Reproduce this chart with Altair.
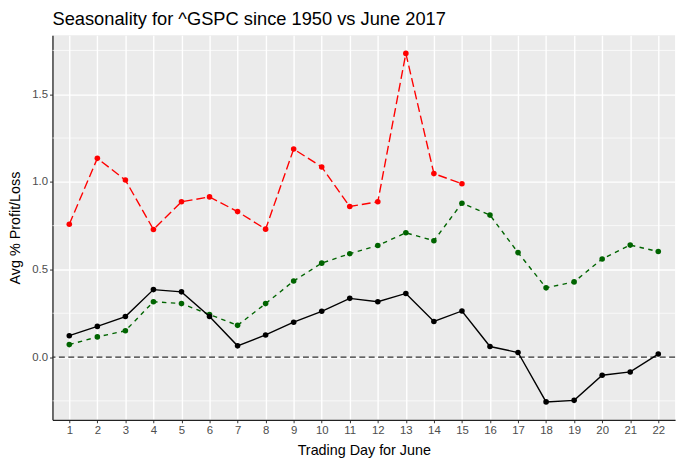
import altair as alt
import pandas as pd

days = list(range(1, 23))
avg_all = [0.122, 0.175, 0.231, 0.385, 0.372, 0.231, 0.064, 0.126, 0.199, 0.261, 0.335,
           0.316, 0.363, 0.203, 0.263, 0.060, 0.026, -0.256, -0.247, -0.104, -0.085, 0.017]
avg_alt = [0.071, 0.115, 0.150, 0.316, 0.305, 0.243, 0.181, 0.305, 0.434, 0.536, 0.590,
           0.637, 0.709, 0.664, 0.878, 0.810, 0.596, 0.395, 0.429, 0.560, 0.639, 0.602]
june_2017_days = list(range(1, 16))
june_2017 = [0.758, 1.134, 1.010, 0.728, 0.886, 0.914, 0.830, 0.730, 1.187, 1.085, 0.859,
             0.886, 1.733, 1.047, 0.989]

minor_grid = [-0.25, 0.25, 0.75, 1.25, 1.75]
y_ticks = [0.0, 0.5, 1.0, 1.5]

FONT = "Liberation Sans"

x_scale = alt.Scale(domain=[0.4, 22.6], nice=False, zero=False)
y_scale = alt.Scale(domain=[-0.358, 1.836], nice=False, zero=False)

x_axis = alt.Axis(values=days, format="d", grid=True, gridColor="white", gridWidth=1.4,
                  domainColor="#222222", domainWidth=1.3, tickColor="#333333", tickSize=3,
                  labelPadding=2, labelFontSize=11.5, labelColor="#4D4D4D",
                  titleFontSize=14.5, titleColor="black", titleFontWeight="normal",
                  titlePadding=8, labelFont=FONT, titleFont=FONT)
y_axis = alt.Axis(values=y_ticks, format=".1f", grid=True, gridColor="white", gridWidth=1.4,
                  domainColor="#222222", domainWidth=1.3, tickColor="#333333", tickSize=3,
                  labelPadding=2, labelFontSize=11.5, labelColor="#4D4D4D",
                  titleFontSize=14.5, titleColor="black", titleFontWeight="normal",
                  titlePadding=9, labelFont=FONT, titleFont=FONT)

df_all = pd.DataFrame({"day": days, "value": avg_all})
df_alt = pd.DataFrame({"day": days, "value": avg_alt})
df_june = pd.DataFrame({"day": june_2017_days, "value": june_2017})
df_minor = pd.DataFrame({"value": minor_grid})
df_zero = pd.DataFrame({"value": [0.0]})

base_x = alt.X("day:Q", scale=x_scale, axis=x_axis, title="Trading Day for June")
base_y = alt.Y("value:Q", scale=y_scale, axis=y_axis, title="Avg % Profit/Loss")

minor = alt.Chart(df_minor).mark_rule(color="white", strokeWidth=0.7).encode(y=base_y)

zero = alt.Chart(df_zero).mark_rule(color="#333333", strokeWidth=1.3, strokeDash=[6, 3.5]).encode(y=base_y)


def series(df, color, dash, width=1.4):
    kw = {"strokeDash": dash} if dash else {}
    line = alt.Chart(df).mark_line(color=color, strokeWidth=width, **kw).encode(x=base_x, y=base_y)
    pts = alt.Chart(df).mark_circle(color=color, size=32, opacity=1).encode(x=base_x, y=base_y)
    return line + pts


green = series(df_alt, "#006400", [4.5, 4.5])
black = series(df_all, "black", None)
red = series(df_june, "#FF0000", [9, 4])

chart = alt.layer(minor, zero, green, black, red).properties(
    width=630,
    height=389,
    padding={"left": 45, "top": 25, "right": 8, "bottom": 36},
    autosize=alt.AutoSizeParams(type="none"),
    title=alt.TitleParams("Seasonality for ^GSPC since 1950 vs June 2017", anchor="start",
                          frame="group", fontSize=18.5, font=FONT, fontWeight="normal",
                          color="black", offset=7),
    background="white",
).configure_view(fill="#EBEBEB", stroke=None)

chart.save("out.html", embed_options={"renderer": "svg", "actions": False})
